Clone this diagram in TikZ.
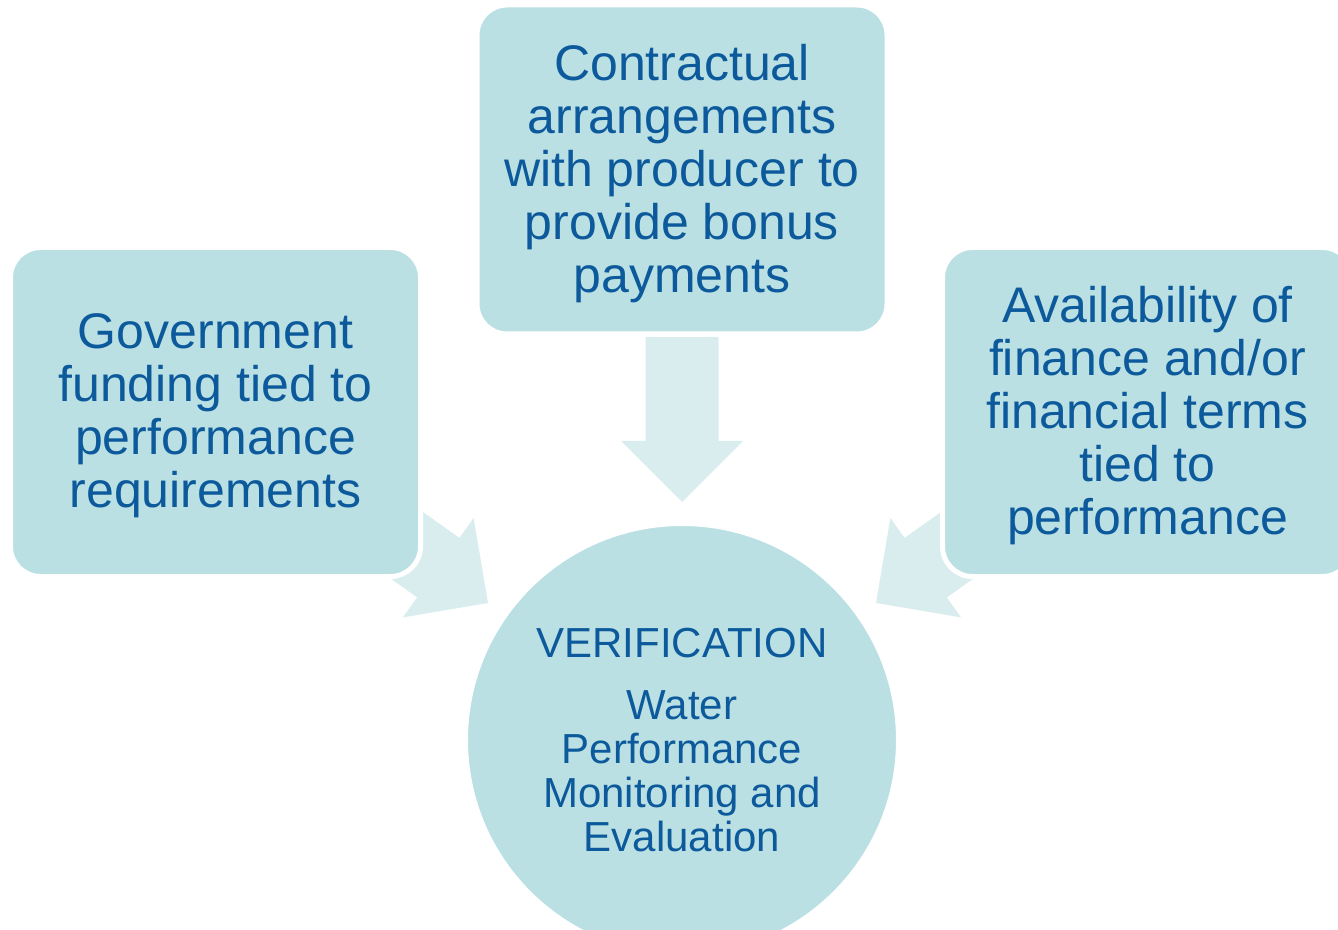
\documentclass[tikz,border=0pt]{standalone}
\usepackage{fontspec}
\setmainfont{Liberation Sans}
\definecolor{boxfill}{RGB}{187,224,227}
\definecolor{arrowfill}{RGB}{217,237,239}
\definecolor{inktext}{RGB}{12,90,155}
\tikzset{
  px/.style={x=0.75pt,y=0.75pt},
  card/.style={draw=white, line width=3.75pt, fill=boxfill, rounded corners=22.5pt,
    minimum width=307.5pt, minimum height=246.75pt, inner sep=0pt},
  cardtext/.style={inner sep=0pt, text=inktext, align=center,
    font=\fontsize{37.5pt}{39.75pt}\selectfont},
  hub/.style={circle, draw=white, line width=3pt, fill=boxfill, minimum size=324pt,
    inner sep=0pt, text=inktext, align=center,
    font=\fontsize{31.5pt}{33pt}\selectfont},
  blockarrow/.style={fill=arrowfill, draw=none}
}
% block arrow with its tip at the origin, pointing along +x
\newcommand{\blockarrowpath}{(0,0) -- (-61,61) -- (-61,36.5) -- (-165,36.5) -- (-165,-36.5) -- (-61,-36.5) -- (-61,-61) -- cycle}
\begin{document}
\begin{tikzpicture}[px]
\useasboundingbox (0,0) rectangle (1338,929);
\clip (0,0) rectangle (1338,929);

% arrows towards the verification circle (drawn first, the cards overlap them)
\coordinate (tipT) at (682,427);
\coordinate (tipL) at (488,326);
\coordinate (tipR) at (876,326);
\fill[blockarrow, shift={(tipT)}, rotate=-90] \blockarrowpath;
\fill[blockarrow, shift={(tipL)}, rotate=-35.4] \blockarrowpath;
\fill[blockarrow, shift={(tipR)}, rotate=215.4] \blockarrowpath;

% outer cards
\node[card] (gov) at (215.5,517) {};
\node[cardtext] (gov-text) at ([yshift=-3pt]gov.center) {Government\\funding tied to\\performance\\requirements};
\node[card] (contract) at (682,759.5) {};
\node[cardtext] (contract-text) at ([yshift=-3pt]contract.center) {Contractual\\arrangements\\with producer to\\provide bonus\\payments};
\node[card] (finance) at (1147.5,517) {};
\node[cardtext] (finance-text) at ([yshift=-3pt]finance.center) {Availability of\\finance and/or\\financial terms\\tied to\\performance};

% central circle
\node[hub] (verif) at (682,189) {VERIFICATION\\[13.5pt]Water\\Performance\\Monitoring and\\Evaluation};
\end{tikzpicture}
\end{document}
